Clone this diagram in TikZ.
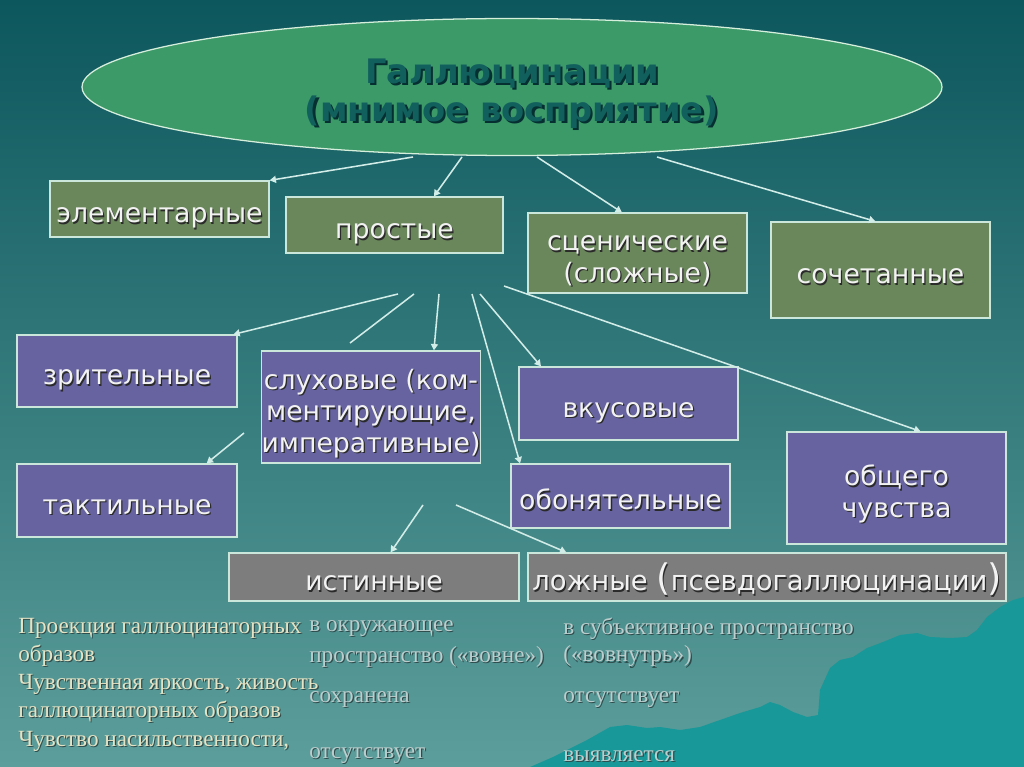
\documentclass[tikz,border=0pt]{standalone}
\usepackage{fontspec}
\setmainfont{DejaVu Sans}
\newfontfamily\boxf{DejaVu Sans}
\newfontfamily\tabf{Liberation Serif}
\usetikzlibrary{arrows.meta,shapes.geometric}
\definecolor{bgtop}{HTML}{0C575D}
\definecolor{bgmid}{HTML}{2F7B79}
\definecolor{bgbot}{HTML}{5C9E9B}
\definecolor{mount}{HTML}{189898}
\definecolor{ellfill}{HTML}{3C9A69}
\definecolor{ellline}{HTML}{D6EEDC}
\definecolor{titletx}{HTML}{12605D}
\definecolor{titlesh}{HTML}{062F31}
\definecolor{olivefill}{HTML}{6A875B}
\definecolor{purpfill}{HTML}{6663A0}
\definecolor{greyfill}{HTML}{7D7D7D}
\definecolor{boxline}{HTML}{CBE6DA}
\definecolor{boxtx}{HTML}{F2F2F2}
\definecolor{boxsh}{HTML}{2A2A2A}
\definecolor{linec}{HTML}{D2ECE8}
\definecolor{tabone}{HTML}{E6E3C4}
\definecolor{tabtwo}{HTML}{BCCDCD}
\definecolor{tabsh}{HTML}{2E4C4C}
\newcommand\shtx[1]{\leavevmode\raisebox{-1.8pt}[19pt][3pt]{\rlap{\kern0.9pt\raisebox{-0.9pt}{\textcolor{boxsh}{#1}}}#1}}
\newcommand\ttsh[1]{\leavevmode\rlap{\kern1.6pt\raisebox{-1.6pt}{\textcolor{titlesh}{#1}}}#1}
\newcommand\tbsh[1]{\leavevmode\rlap{\kern0.8pt\raisebox{-0.8pt}{\textcolor{tabsh}{#1}}}#1}
\newcommand\bigp[1]{{\fontsize{26}{26}\selectfont #1}}
\tikzset{
  boxbase/.style={draw=boxline, line width=0.9pt, inner sep=0pt, align=center,
    text=boxtx, font=\boxf\fontsize{19}{22.5}\selectfont},
  oliveb/.style={boxbase, fill=olivefill},
  purpb/.style={boxbase, fill=purpfill},
  greyb/.style={boxbase, fill=greyfill},
  conn/.style={draw=linec, line width=1.1pt},
  arr/.style={conn, -{Triangle[width=5pt,length=4.5pt]}},
  tabl/.style={anchor=west, inner sep=0pt, text=tabone, font=\tabf\fontsize{16.5}{18}\selectfont},
  tabr/.style={anchor=west, inner sep=0pt, text=tabtwo, font=\tabf\fontsize{16.5}{18}\selectfont}
}
\begin{document}
\begin{tikzpicture}[x=0.025cm,y=-0.025cm]
\useasboundingbox (0,0) rectangle (1024,767);
\shade[top color=bgtop, middle color=bgmid, bottom color=bgbot] (0,0) rectangle (1024,767);
% mountain
\fill[mount] (530,767) -- (553,757) -- (587,740) -- (610,727) -- (627,725) -- (647,728)
  -- (660,727) -- (680,730) -- (700,727) -- (720,720) -- (740,713) -- (760,707)
  -- (770,702) -- (780,705) -- (793,712) -- (807,717) -- (818,715) -- (820,690)
  -- (830,668) -- (840,660) -- (853,657) -- (867,648) -- (883,642) -- (900,635)
  -- (917,633) -- (930,637) -- (950,638) -- (967,637) -- (977,630) -- (987,617)
  -- (1000,607) -- (1013,600) -- (1024,597) -- (1024,767) -- cycle;
% root ellipse
\node[ellipse, draw=ellline, line width=0.9pt, fill=ellfill, inner sep=0pt,
  minimum width=860*0.025cm, minimum height=137*0.025cm, align=center,
  text=titletx, font=\boxf\bfseries\fontsize{24}{27}\selectfont] (root) at (512,87)
  {\rule{0pt}{28pt}\ttsh{Галлюцинации}\\\ttsh{(мнимое восприятие)}};
% start coordinates
\coordinate (e1) at (413,157);
\coordinate (e2) at (462,157);
\coordinate (e3) at (537,157);
\coordinate (e4) at (657,157);
\coordinate (m1) at (398,294);
\coordinate (m2) at (414,294);
\coordinate (m2e) at (350,343);
\coordinate (m3) at (439,294);
\coordinate (m4) at (480,294);
\coordinate (m5) at (472,294);
\coordinate (m6) at (504,286);
\coordinate (t1) at (244,433);
\coordinate (b1) at (423,505);
\coordinate (b2) at (456,505);
% boxes
\node[oliveb, minimum width=219*0.025cm, minimum height=56*0.025cm] (el) at (159.5,209) {\shtx{элементарные}};
\node[oliveb, minimum width=217*0.025cm, minimum height=56*0.025cm] (pr) at (394.5,225) {\shtx{простые}};
\node[oliveb, minimum width=219*0.025cm, minimum height=80*0.025cm] (sc) at (637.5,253) {\shtx{сценические}\\\shtx{(сложные)}};
\node[oliveb, minimum width=219*0.025cm, minimum height=96*0.025cm] (so) at (880.5,270) {\shtx{сочетанные}};
\node[purpb, minimum width=220*0.025cm, minimum height=72*0.025cm] (zr) at (127,371) {\shtx{зрительные}};
\node[purpb, minimum width=218*0.025cm, minimum height=112*0.025cm] (sl) at (371,407) {\shtx{слуховые (ком-}\\\shtx{ментирующие,}\\\shtx{императивные)}};
\node[purpb, minimum width=219*0.025cm, minimum height=73*0.025cm] (vk) at (628.5,403.5) {\shtx{вкусовые}};
\node[purpb, minimum width=220*0.025cm, minimum height=73*0.025cm] (ta) at (127,500.5) {\shtx{тактильные}};
\node[purpb, minimum width=219*0.025cm, minimum height=64*0.025cm] (ob) at (620.5,496) {\shtx{обонятельные}};
\node[purpb, minimum width=219*0.025cm, minimum height=112*0.025cm] (og) at (896.5,488) {\shtx{общего}\\\shtx{чувства}};
\node[greyb, minimum width=290*0.025cm, minimum height=48*0.025cm] (is) at (374,577) {\shtx{истинные}};
\node[greyb, minimum width=478*0.025cm, minimum height=48*0.025cm, font=\boxf\fontsize{19.5}{22.5}\selectfont] (lo) at (767,577)
  {\shtx{ложные \bigp{(}псевдогаллюцинации\bigp{)}}};
% connectors
\draw[arr] (e1) -- (el.north east);
\draw[arr] (e2) -- (pr.36);
\draw[arr] (e3) -- (sc.111.2);
\draw[arr] (e4) -- (so.96.5);
\draw[arr] (m1) -- (zr.19.3);
\draw[conn] (m2) -- (m2e);
\draw[arr] (m3) -- (sl.42.6);
\draw[arr] (m4) -- (vk.157.1);
\draw[arr] (m5) -- (ob.162.3);
\draw[arr] (m6) -- (og.67.2);
\draw[arr] (t1) -- (ta.25.1);
\draw[arr] (b1) -- (is.56.3);
\draw[arr] (b2) -- (lo.173.6);
% table text
\node[tabl] (r1a) at (18,629) {\tbsh{Проекция галлюцинаторных}};
\node[tabl] (r1b) at (18,656) {\tbsh{образов}};
\node[tabl] (r2a) at (18,685) {\tbsh{Чувственная яркость, живость}};
\node[tabl] (r2b) at (18,712) {\tbsh{галлюцинаторных образов}};
\node[tabl] (r3a) at (18,742) {\tbsh{Чувство насильственности,}};
\node[tabr] (c1a) at (309,629) {\tbsh{в окружающее}};
\node[tabr] (c1b) at (309,657) {\tbsh{пространство («вовне»)}};
\node[tabr] (c2) at (309,700) {\tbsh{сохранена}};
\node[tabr] (c3) at (309,756) {\tbsh{отсутствует}};
\node[tabr] (d1a) at (563,629) {\tbsh{в субъективное пространство}};
\node[tabr] (d1b) at (563,657) {\tbsh{(«вовнутрь»)}};
\node[tabr] (d2) at (563,700) {\tbsh{отсутствует}};
\node[tabr] (d3) at (563,757) {\tbsh{выявляется}};
\end{tikzpicture}
\end{document}
